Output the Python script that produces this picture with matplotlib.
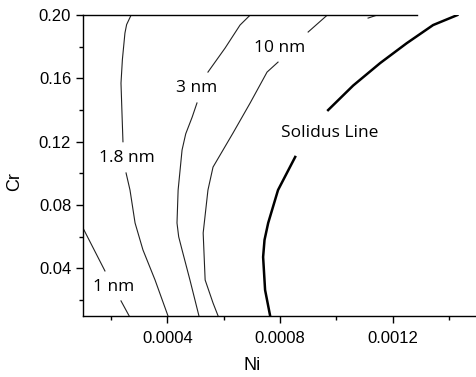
import matplotlib
matplotlib.use('Agg')
import matplotlib.pyplot as plt
import numpy as np

plt.rcParams['font.family'] = ['Liberation Sans', 'DejaVu Sans']

# contour lines (Ni, Cr), split where the label sits
c1_a_ni = [0.000100, 0.000178]
c1_a_cr = [0.0655, 0.0384]
c1_b_ni = [0.000235, 0.000264]
c1_b_cr = [0.0195, 0.0100]

c18_a_ni = [0.000271, 0.000255, 0.000249, 0.000240, 0.000235, 0.000239, 0.000242]
c18_a_cr = [0.200, 0.194, 0.1886, 0.172, 0.157, 0.1356, 0.120]
c18_b_ni = [0.000253, 0.000267, 0.000285, 0.000313, 0.000356, 0.000402]
c18_b_cr = [0.1003, 0.0895, 0.0687, 0.0517, 0.0327, 0.0100]

c3_a_ni = [0.000694, 0.000658, 0.000605, 0.000544]
c3_a_cr = [0.200, 0.1937, 0.1792, 0.164]
c3_b_ni = [0.000505, 0.000488, 0.000465, 0.000452, 0.000438, 0.000434, 0.000440, 0.000452, 0.000480, 0.000512]
c3_b_cr = [0.1445, 0.1356, 0.125, 0.1148, 0.0895, 0.0687, 0.060, 0.0517, 0.0327, 0.0100]

c10_a_ni = [0.000968, 0.000900]
c10_a_cr = [0.200, 0.1893]
c10_b_ni = [0.000793, 0.000754, 0.000694, 0.000633, 0.000562, 0.000544, 0.000527, 0.000534, 0.000562, 0.000580]
c10_b_cr = [0.1703, 0.164, 0.1445, 0.1255, 0.104, 0.0895, 0.0624, 0.0327, 0.0182, 0.0100]

c30_ni = [0.001113, 0.001145]
c30_cr = [0.1981, 0.200]

sol_a_ni = [0.001430, 0.001344, 0.001250, 0.001156, 0.001060, 0.000971]
sol_a_cr = [0.200, 0.1937, 0.1822, 0.1697, 0.1555, 0.140]
sol_b_ni = [0.000854, 0.000793, 0.000758, 0.000745, 0.000740, 0.000747, 0.000765]
sol_b_cr = [0.1104, 0.0895, 0.0687, 0.058, 0.0472, 0.0264, 0.0100]

labels = ['1 nm', '1.8 nm', '3 nm', '10 nm', 'Solidus Line']
label_ni = [0.000210, 0.000256, 0.000505, 0.000797, 0.000975]
label_cr = [0.0283, 0.1097, 0.154, 0.179, 0.1255]

fig = plt.figure(figsize=(4.77, 3.77), dpi=100)
ax = fig.add_axes([0.174, 0.162, 0.826, 0.798])

thin = dict(color='#222222', lw=0.8)
for xs, ys in [(c1_a_ni, c1_a_cr), (c1_b_ni, c1_b_cr), (c18_a_ni, c18_a_cr),
               (c18_b_ni, c18_b_cr), (c3_a_ni, c3_a_cr), (c3_b_ni, c3_b_cr),
               (c10_a_ni, c10_a_cr), (c10_b_ni, c10_b_cr), (c30_ni, c30_cr)]:
    ax.plot(xs, ys, **thin)
ax.plot(sol_a_ni, sol_a_cr, color='black', lw=1.8)
ax.plot(sol_b_ni, sol_b_cr, color='black', lw=1.8)

# top border of the contour region
ax.plot([0.0001, 0.001288], [0.20, 0.20], color='black', lw=1.0, clip_on=False)

for t, x, y in zip(labels, label_ni, label_cr):
    ax.text(x, y, t, ha='center', va='center', fontsize=12.5,
            family=['Open Sans', 'DejaVu Sans'])

ax.set_xlim(0.0001, 0.0015)
ax.set_ylim(0.01, 0.20)
ax.set_xticks([0.0004, 0.0008, 0.0012])
ax.set_xticklabels(['0.0004', '0.0008', '0.0012'])
ax.set_xticks([0.0002, 0.0006, 0.0010, 0.0014], minor=True)
ax.set_yticks([0.04, 0.08, 0.12, 0.16, 0.20])
ax.set_yticklabels(['0.04', '0.08', '0.12', '0.16', '0.20'])
ax.set_yticks([0.02, 0.06, 0.10, 0.14, 0.18], minor=True)
ax.tick_params(which='major', length=5, width=1, labelsize=12, direction='out')
ax.tick_params(which='minor', length=3, width=1, direction='out')
ax.tick_params(axis='x', pad=6)

for s in ['top', 'right']:
    ax.spines[s].set_visible(False)
for s in ['left', 'bottom']:
    ax.spines[s].set_linewidth(1.0)

ax.set_xlabel('Ni', fontsize=13)
ax.set_ylabel('Cr', fontsize=13)
ax.xaxis.set_label_coords(0.43, -0.135)
ax.yaxis.set_label_coords(-0.152, 0.445)

fig.savefig('out.png', dpi=100)
